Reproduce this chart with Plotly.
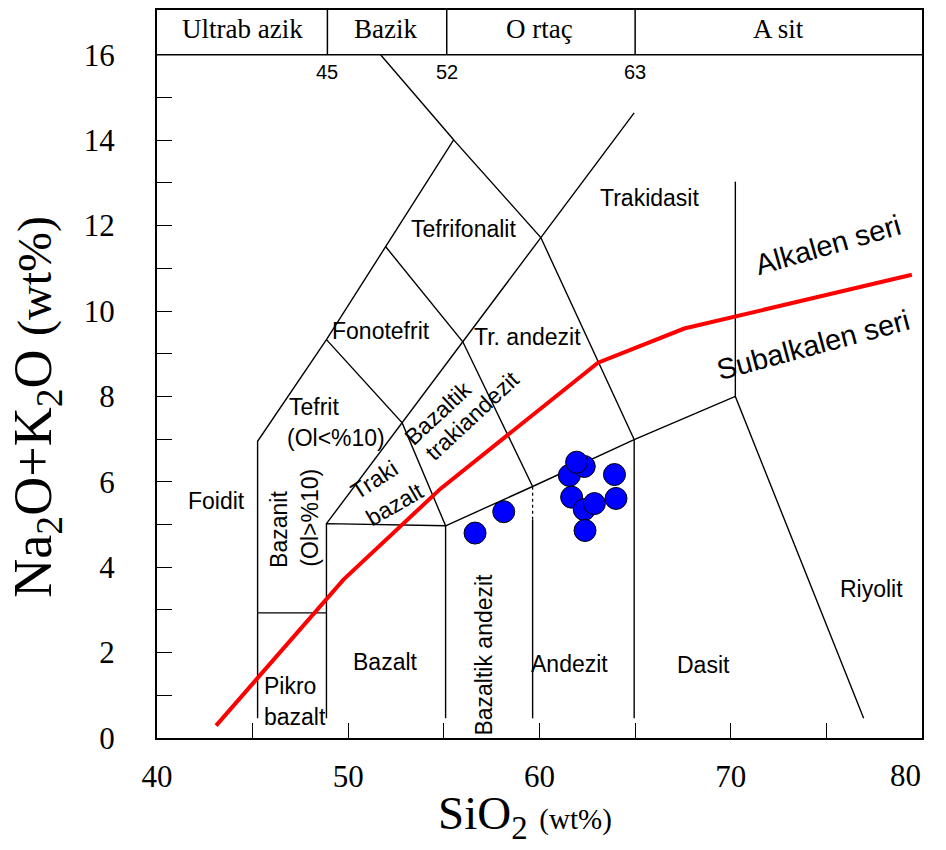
import plotly.graph_objects as go

# ---- sample data ----
sio2 = [56.63, 58.13, 61.56, 62.34, 61.94, 63.92, 61.68, 62.34, 62.87, 64.00, 62.38]
alkali = [4.80, 5.30, 6.15, 6.36, 6.46, 6.17, 5.64, 5.35, 5.49, 5.61, 4.86]

# ---- alkaline / subalkaline divide ----
div_x = [43.09, 49.75, 54.83, 63.06, 67.57, 79.47]
div_y = [0.29, 3.71, 5.84, 8.79, 9.59, 10.85]

# ---- TAS field boundaries (as drawn in the figure) ----
bound_x = [
    [45.26, 45.26, 48.86, 51.95, 55.51, 60.07, 64.95],
    [45.26, 48.86],
    [48.86, 48.86, 55.09, 55.09],
    [55.09, 59.64, 64.95, 70.24, 76.95],
    [59.64, 59.64],
    [64.95, 64.95],
    [70.24, 70.24],
    [48.86, 52.82, 55.99, 60.07, 64.95],
    [48.86, 52.82, 55.09],
    [51.95, 55.99, 59.64],
    [55.51, 51.69],
]
bound_y = [
    [0.46, 6.95, 9.33, 11.51, 14.01, 11.72, 6.99],
    [2.93, 2.93],
    [0.46, 5.02, 4.97, 0.46],
    [4.97, 5.89, 6.99, 8.00, 0.46],
    [0.46, 5.11],
    [0.46, 6.99],
    [8.00, 13.03],
    [5.02, 7.38, 9.28, 11.72, 14.64],
    [9.33, 7.38, 4.97],
    [11.51, 9.28, 5.89],
    [14.01, 16.0],
]
dot_x = [59.64, 59.64]
dot_y = [5.11, 5.89]

# top classification band
band_x = [48.91, 55.15, 65.0]
band_names = ["Ultrab azik", "Bazik", "O rtaç", "A sit"]
band_label_x = [44.45, 51.95, 60.02, 72.49]
band_ticks = ["45", "52", "63"]

x_ticks = [40, 50, 60, 70, 80]
x_ticktext = ["40", "50", "60", "70", ""]
x_last_label = "80"
x_minor = [45, 55, 65, 75]
y_ticks = [0, 2, 4, 6, 8, 10, 12, 14, 16]
y_minor = [1, 3, 5, 7, 9, 11, 13, 15]
Y_TOP = 17.05

SERIF = "Liberation Serif, Times New Roman, serif"
SANS = "Liberation Sans, Arial, sans-serif"

fig = go.Figure()

bx, by = [], []
for xs, ys in zip(bound_x, bound_y):
    bx += xs + [None]
    by += ys + [None]
fig.add_trace(go.Scatter(x=bx, y=by, mode="lines",
                         line=dict(color="black", width=1.4),
                         hoverinfo="skip", showlegend=False))
fig.add_trace(go.Scatter(x=dot_x, y=dot_y, mode="lines",
                         line=dict(color="black", width=1.2, dash="dot"),
                         hoverinfo="skip", showlegend=False))
fig.add_trace(go.Scatter(x=div_x, y=div_y, mode="lines",
                         line=dict(color="#ff0000", width=4),
                         hoverinfo="skip", showlegend=False))
fig.add_trace(go.Scatter(x=sio2, y=alkali, mode="markers",
                         marker=dict(size=22, color="#0000ff",
                                     line=dict(color="black", width=1)),
                         showlegend=False))

shapes = [dict(type="line", xref="x", yref="y", x0=40, x1=80, y0=16, y1=16,
               line=dict(color="black", width=1.5))]
for bxv in band_x:
    shapes.append(dict(type="line", xref="x", yref="paper", x0=bxv, x1=bxv,
                       y0=16 / Y_TOP, y1=1, line=dict(color="black", width=1.5)))

ann = []
def label(x, y, t, size=23, angle=0, family=SANS):
    ann.append(dict(x=x, y=y, xref="x", yref="y", text=t, showarrow=False,
                    xanchor="center", yanchor="middle",
                    textangle=angle, font=dict(family=family, size=size, color="black")))

for name, lx in zip(band_names, band_label_x):
    label(lx, 16.6, name, size=27, family=SERIF)
for t, lx in zip(band_ticks, band_x):
    label(lx, 15.6, t, size=20)

label(43.09, 5.54, "Foidit")
label(46.34, 4.88, "Bazanit", angle=-90)
label(48.02, 5.17, "(Ol>%10)", angle=-90)
label(48.23, 7.76, "Tefrit")
label(49.38, 7.03, "(Ol<%10)")
label(51.34, 6.05, "Traki", angle=-33)
label(52.47, 5.47, "bazalt", angle=-30)
label(54.68, 7.62, "Bazaltik", angle=-43)
label(56.46, 7.55, "trakiandezit", angle=-43)
label(51.69, 9.54, "Fonotefrit")
label(56.04, 11.93, "Tefrifonalit")
label(59.39, 9.38, "Tr. andezit")
label(65.73, 12.65, "Trakidasit")
label(75.06, 11.55, "Alkalen seri", size=29, angle=-16)
label(74.28, 9.21, "Subalkalen seri", size=29, angle=-15)
label(77.37, 3.48, "Riyolit")
label(68.56, 1.70, "Dasit")
label(61.59, 1.74, "Andezit")
label(57.09, 1.95, "Bazaltik andezit", angle=-90)
label(51.95, 1.79, "Bazalt")
label(46.97, 1.21, "Pikro")
label(47.21, 0.50, "bazalt")

# last x tick label, drawn slightly inward as in the figure
ann.append(dict(xref="x", yref="paper", x=79.15, y=-0.0515, showarrow=False,
                xanchor="center", yanchor="middle", text=x_last_label,
                font=dict(family=SERIF, size=31, color="black")))

# axis titles placed as paper-anchored text
ann.append(dict(xref="paper", yref="paper", x=0.481, y=-0.1505, showarrow=False,
                xanchor="center", yanchor="bottom",
                text="SiO<sub>2</sub> <span style='font-size:29px'>(wt%)</span>",
                font=dict(family=SERIF, size=47, color="black")))
ann.append(dict(xref="paper", yref="paper", x=-0.157, y=0.455, showarrow=False,
                xanchor="center", yanchor="middle", textangle=-90,
                text="Na<sub>2</sub>O+K<sub>2</sub>O <span style='font-size:48px'>(wt%)</span>",
                font=dict(family=SERIF, size=54, color="black")))

fig.update_layout(
    width=946, height=850,
    margin=dict(l=157, r=24, t=10, b=112),
    paper_bgcolor="white", plot_bgcolor="white",
    shapes=shapes, annotations=ann,
    xaxis=dict(range=[40, 80], tickvals=x_ticks, ticktext=x_ticktext,
               ticks="inside", ticklen=15, tickwidth=1.3, tickcolor="black",
               minor=dict(tickvals=x_minor, ticks="inside", ticklen=15,
                          tickwidth=1.3, tickcolor="black"),
               showline=True, linecolor="black", linewidth=2, mirror=True,
               showgrid=False, zeroline=False, ticklabelstandoff=10,
               automargin=False,
               tickfont=dict(family=SERIF, size=31, color="black")),
    yaxis=dict(range=[0, Y_TOP], tickvals=y_ticks, ticks="inside", ticklen=15,
               tickwidth=1.3, tickcolor="black",
               minor=dict(tickvals=y_minor, ticks="inside", ticklen=15,
                          tickwidth=1.3, tickcolor="black"),
               showline=True, linecolor="black", linewidth=2, mirror=True,
               showgrid=False, zeroline=False, ticklabelstandoff=34,
               automargin=False,
               tickfont=dict(family=SERIF, size=31, color="black")),
)

fig.write_html("out.html",
               config={"displayModeBar": False},
               post_script="document.body.style.margin='0px';"
                           "document.body.style.overflow='hidden';")
